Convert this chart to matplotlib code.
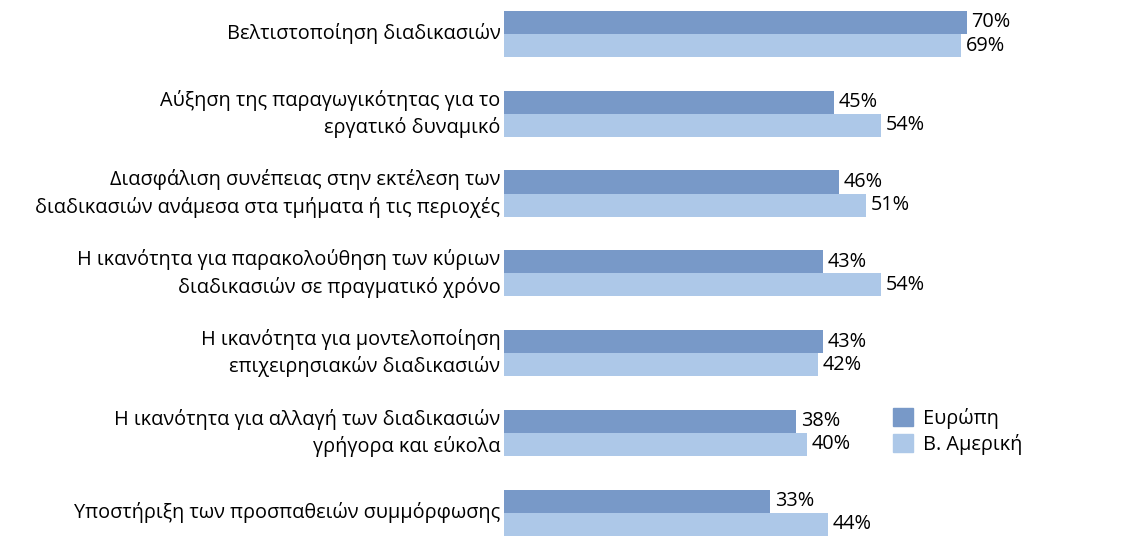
import matplotlib
matplotlib.use('Agg')
import matplotlib.pyplot as plt
from matplotlib.patches import Patch
import numpy as np

plt.rcParams['font.family'] = ['Open Sans', 'DejaVu Sans']

categories = [
    'Βελτιστοποίηση διαδικασιών',
    'Αύξηση της παραγωγικότητας για το\nεργατικό δυναμικό',
    'Διασφάλιση συνέπειας στην εκτέλεση των\nδιαδικασιών ανάμεσα στα τμήματα ή τις περιοχές',
    'Η ικανότητα για παρακολούθηση των κύριων\nδιαδικασιών σε πραγματικό χρόνο',
    'Η ικανότητα για μοντελοποίηση\nεπιχειρησιακών διαδικασιών',
    'Η ικανότητα για αλλαγή των διαδικασιών\nγρήγορα και εύκολα',
    'Υποστήριξη των προσπαθειών συμμόρφωσης',
]
europe = [70, 45, 46, 43, 43, 38, 33]
namerica = [69, 54, 51, 54, 42, 40, 44]
series_names = ['Ευρώπη', 'Β. Αμερική']

c_eu = '#7899C8'
c_na = '#ADC8E8'

# the original axis does not start at zero
base = -17

fig = plt.figure(figsize=(11.26, 5.47), dpi=100)
ax = fig.add_axes([504 / 1126, 0, 1 - 504 / 1126, 1])

y = np.arange(len(categories))
h = 0.29
ax.barh(y - h / 2, np.array(europe) - base, left=base, height=h, color=c_eu)
ax.barh(y + h / 2, np.array(namerica) - base, left=base, height=h, color=c_na)

fs = 14.3
for yi, v in zip(y, europe):
    ax.text(v + 0.9, yi - h / 2, f'{v}%', va='center', ha='left', fontsize=fs)
for yi, v in zip(y, namerica):
    ax.text(v + 0.9, yi + h / 2, f'{v}%', va='center', ha='left', fontsize=fs)

for yi, lab in zip(y, categories):
    ax.text(base - 0.7, yi, lab, va='center', ha='right', fontsize=fs,
            linespacing=1.4, clip_on=False)

ax.set_xlim(base, 100)
ax.set_ylim(6.43, -0.426)
ax.axis('off')

handles = [Patch(color=c_eu), Patch(color=c_na)]
fig.legend(handles, series_names, loc='upper left', bbox_to_anchor=(885 / 1126, 1 - 400 / 547),
           frameon=False, fontsize=fs, handlelength=1.0, handleheight=1.0,
           handletextpad=0.5, labelspacing=0.25, borderaxespad=0)

fig.savefig('out.png', dpi=100)
